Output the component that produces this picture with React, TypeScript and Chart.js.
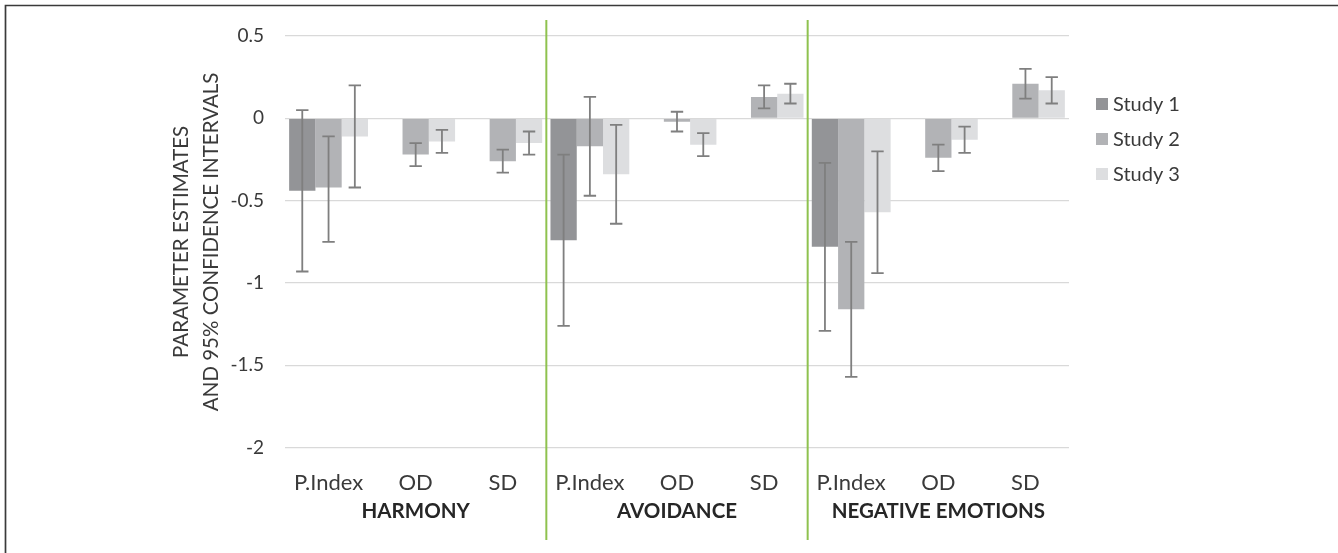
import React, { useEffect, useRef } from "react";
import { Chart, registerables } from "chart.js";

Chart.register(...registerables);

const categories = ["P.Index", "OD", "SD", "P.Index", "OD", "SD", "P.Index", "OD", "SD"];
const groups = ["HARMONY", "AVOIDANCE", "NEGATIVE EMOTIONS"];
const seriesNames = ["Study 1", "Study 2", "Study 3"];

const study1 = [-0.44, null, null, -0.74, null, null, -0.78, null, null];
const study1Low = [-0.93, null, null, -1.26, null, null, -1.29, null, null];
const study1High = [0.05, null, null, -0.22, null, null, -0.27, null, null];

const study2 = [-0.42, -0.22, -0.26, -0.17, -0.02, 0.13, -1.16, -0.24, 0.21];
const study2Low = [-0.75, -0.29, -0.33, -0.47, -0.08, 0.06, -1.57, -0.32, 0.12];
const study2High = [-0.11, -0.15, -0.19, 0.13, 0.04, 0.2, -0.75, -0.16, 0.3];

const study3 = [-0.11, -0.14, -0.15, -0.34, -0.16, 0.15, -0.57, -0.13, 0.17];
const study3Low = [-0.42, -0.21, -0.22, -0.64, -0.23, 0.09, -0.94, -0.21, 0.09];
const study3High = [0.2, -0.07, -0.08, -0.04, -0.09, 0.21, -0.2, -0.05, 0.25];

const yTitleLines = ["PARAMETER ESTIMATES", "AND 95% CONFIDENCE INTERVALS"];

const COLORS = ["#939497", "#b2b3b6", "#dddee0"];
const TEXT = "#3a3a3a";
const FONT = "Lato, 'Open Sans', sans-serif";

export default function App() {
  const ref = useRef<HTMLCanvasElement | null>(null);

  useEffect(() => {
    const canvas = ref.current;
    if (!canvas) return;

    const values = [study1, study2, study3];
    const lows = [study1Low, study2Low, study3Low];
    const highs = [study1High, study2High, study3High];

    const decor = {
      id: "decor",
      beforeDraw(chart: any) {
        const ctx = chart.ctx;
        ctx.save();
        ctx.strokeStyle = "#3a3a3a";
        ctx.lineWidth = 1.7;
        ctx.beginPath();
        ctx.moveTo(5.5, 553);
        ctx.lineTo(5.5, 5.5);
        ctx.lineTo(1338, 5.5);
        ctx.stroke();
        ctx.restore();
      },
      afterDatasetsDraw(chart: any) {
        const ctx = chart.ctx;
        const y = chart.scales.y;
        ctx.save();
        ctx.strokeStyle = "#7f7f7f";
        ctx.lineWidth = 1.8;
        chart.data.datasets.forEach((ds: any, i: number) => {
          const meta = chart.getDatasetMeta(i);
          meta.data.forEach((el: any, j: number) => {
            const lo = ds.errLow[j];
            const hi = ds.errHigh[j];
            if (lo == null || hi == null || ds.data[j] == null) return;
            const x = el.x;
            const yl = y.getPixelForValue(lo);
            const yh = y.getPixelForValue(hi);
            const c = 6.2;
            ctx.beginPath();
            ctx.moveTo(x, yl);
            ctx.lineTo(x, yh);
            ctx.moveTo(x - c, yl);
            ctx.lineTo(x + c, yl);
            ctx.moveTo(x - c, yh);
            ctx.lineTo(x + c, yh);
            ctx.stroke();
          });
        });
        ctx.restore();
      },
      afterDraw(chart: any) {
        const ctx = chart.ctx;
        const xs = chart.scales.x;
        const area = chart.chartArea;
        ctx.save();
        // group separators
        ctx.strokeStyle = "#8fc24f";
        ctx.lineWidth = 2;
        for (let g = 1; g < groups.length; g++) {
          const sx = (xs.getPixelForValue(3 * g - 1) + xs.getPixelForValue(3 * g)) / 2;
          ctx.beginPath();
          ctx.moveTo(sx, 20);
          ctx.lineTo(sx, 540);
          ctx.stroke();
        }
        // group labels
        ctx.fillStyle = "#262626";
        ctx.font = "bold 20.5px " + FONT;
        ctx.textAlign = "center";
        ctx.textBaseline = "alphabetic";
        groups.forEach((g, i) => {
          const cx = xs.getPixelForValue(3 * i + 1);
          ctx.fillText(g, cx, 518);
        });
        // y title
        ctx.fillStyle = TEXT;
        ctx.font = "20.5px " + FONT;
        ctx.textBaseline = "middle";
        const cy = (area.top + area.bottom) / 2;
        const xsTitle = [area.left - 104, area.left - 74];
        yTitleLines.forEach((t, i) => {
          ctx.save();
          ctx.translate(xsTitle[i], cy);
          ctx.rotate(-Math.PI / 2);
          ctx.fillText(t, 0, 0);
          ctx.restore();
        });
        // legend
        ctx.font = "20px " + FONT;
        ctx.textAlign = "left";
        ctx.textBaseline = "alphabetic";
        chart.data.datasets.forEach((ds: any, i: number) => {
          const lx = area.right + 27;
          const ly = area.top + 62 + i * 35;
          ctx.fillStyle = ds.backgroundColor;
          ctx.fillRect(lx, ly, 12, 12);
          ctx.fillStyle = TEXT;
          ctx.fillText(ds.label, lx + 17, ly + 12.8);
        });
        ctx.restore();
      },
    };

    const chart = new Chart(canvas, {
      type: "bar",
      data: {
        labels: categories,
        datasets: seriesNames.map((name, i) => ({
          label: name,
          data: values[i],
          errLow: lows[i],
          errHigh: highs[i],
          backgroundColor: COLORS[i],
          borderWidth: 0,
          categoryPercentage: 0.905,
          barPercentage: 1,
        })) as any,
      },
      options: {
        responsive: false,
        animation: false,
        devicePixelRatio: 1,
        layout: { padding: { top: 36, right: 269, bottom: 0, left: 0 } },
        plugins: {
          legend: { display: false },
          tooltip: { enabled: false },
        },
        scales: {
          x: {
            type: "category",
            offset: true,
            grid: { display: false },
            border: { display: false },
            ticks: {
              color: TEXT,
              font: { family: FONT, size: 22 },
              padding: 14,
              maxRotation: 0,
              autoSkip: false,
            },
            afterFit: (s: any) => {
              s.height = 105.3;
            },
          },
          y: {
            min: -2,
            max: 0.5,
            grid: { color: "#d9d9d9", lineWidth: 1.3, drawTicks: false },
            border: { display: false },
            ticks: {
              stepSize: 0.5,
              color: TEXT,
              font: { family: FONT, size: 19 },
              padding: 21,
              callback: (v: any) => String(v),
            },
            afterFit: (s: any) => {
              s.width = 285;
            },
          },
        },
      },
      plugins: [decor],
    } as any);

    return () => chart.destroy();
  }, []);

  return (
    <div style={{ position: "absolute", left: 0, top: 0, width: 1338, height: 553, background: "#fff" }}>
      <canvas ref={ref} width={1338} height={553} style={{ display: "block" }} />
    </div>
  );
}
